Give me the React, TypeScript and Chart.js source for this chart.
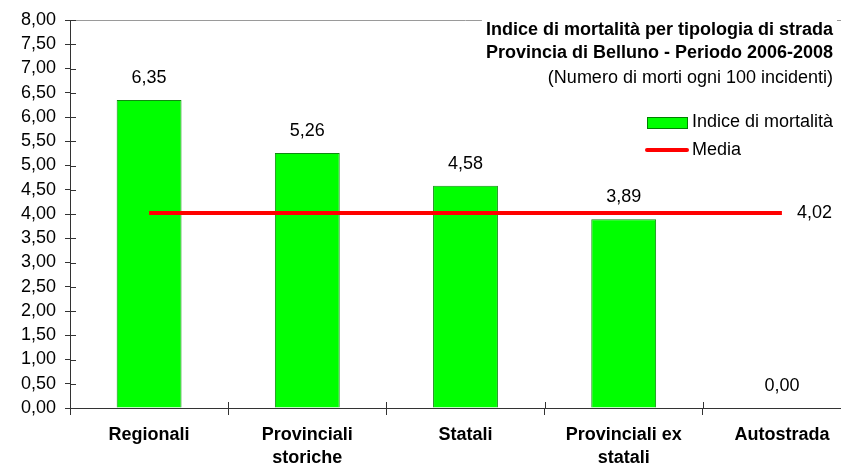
import React, { useEffect, useRef } from "react";
import { Chart, registerables } from "chart.js";

Chart.register(...registerables);

const categories: string[][] = [
  ["Regionali"],
  ["Provinciali", "storiche"],
  ["Statali"],
  ["Provinciali ex", "statali"],
  ["Autostrada"],
];
const indiceValues = [6.35, 5.26, 4.58, 3.89, 0.0];
const mediaValues = [4.02, 4.02, 4.02, 4.02, 4.02];
const yMin = 0;
const yMax = 8;
const yStep = 0.5;
const titleBold = [
  "Indice di mortalità per tipologia di strada",
  "Provincia di Belluno - Periodo 2006-2008",
];
const titleNormal = "(Numero di morti ogni 100 incidenti)";
const legendLabels = ["Indice di mortalità", "Media"];

const FONT = "'Liberation Sans', Arial, sans-serif";
const FS = 18;
const fmt = (v: number) => v.toFixed(2).replace(".", ",");

const overlay = {
  id: "overlay",
  beforeDatasetsDraw(chart: any) {
    const { ctx, chartArea: ca, scales } = chart;
    ctx.save();
    // top border of plot area
    ctx.strokeStyle = "#9a9a9a";
    ctx.lineWidth = 1;
    ctx.beginPath();
    ctx.moveTo(ca.left, Math.round(ca.top) + 0.5);
    ctx.lineTo(ca.right, Math.round(ca.top) + 0.5);
    ctx.stroke();
    // inner tick marks
    ctx.strokeStyle = "#333";
    const ys = scales.y;
    for (let v = yMin; v <= yMax + 1e-9; v += yStep) {
      const y = Math.round(ys.getPixelForValue(v)) + 0.5;
      ctx.beginPath();
      ctx.moveTo(ca.left, y);
      ctx.lineTo(ca.left + 6, y);
      ctx.stroke();
    }
    const n = categories.length;
    const w = (ca.right - ca.left) / n;
    for (let i = 0; i <= n; i++) {
      const x = Math.round(ca.left + i * w) + 0.5;
      ctx.beginPath();
      ctx.moveTo(x, ca.bottom - 6);
      ctx.lineTo(x, ca.bottom);
      ctx.stroke();
    }
    ctx.restore();
  },
  afterDraw(chart: any) {
    const { ctx } = chart;
    ctx.save();
    // data labels
    ctx.fillStyle = "#000";
    ctx.font = `${FS}px ${FONT}`;
    ctx.textAlign = "center";
    ctx.textBaseline = "middle";
    const barMeta = chart.getDatasetMeta(0);
    barMeta.data.forEach((el: any, i: number) => {
      ctx.fillText(fmt(indiceValues[i]), el.x, el.y - 22);
    });
    const lineMeta = chart.getDatasetMeta(1);
    const last = lineMeta.data[lineMeta.data.length - 1];
    ctx.textAlign = "left";
    ctx.fillText(fmt(mediaValues[mediaValues.length - 1]), last.x + 15, last.y);

    // title block
    const right = 833;
    ctx.font = `bold ${FS}px ${FONT}`;
    let maxW = 0;
    titleBold.forEach((t) => (maxW = Math.max(maxW, ctx.measureText(t).width)));
    ctx.font = `${FS}px ${FONT}`;
    maxW = Math.max(maxW, ctx.measureText(titleNormal).width);
    ctx.fillStyle = "#fff";
    ctx.fillRect(right - maxW - 4, 14, maxW + 8, 76);
    ctx.fillStyle = "#000";
    ctx.textAlign = "right";
    ctx.font = `bold ${FS}px ${FONT}`;
    ctx.fillText(titleBold[0], right, 30);
    ctx.fillText(titleBold[1], right, 53);
    ctx.font = `${FS}px ${FONT}`;
    ctx.fillText(titleNormal, right, 78);

    // legend
    ctx.fillStyle = "#00ff00";
    ctx.strokeStyle = "#008000";
    ctx.lineWidth = 1;
    ctx.fillRect(647, 117, 40, 11);
    ctx.strokeRect(647.5, 117.5, 40, 11);
    ctx.strokeStyle = "#ff0000";
    ctx.lineWidth = 4;
    ctx.lineCap = "round";
    ctx.beginPath();
    ctx.moveTo(647, 150);
    ctx.lineTo(687, 150);
    ctx.stroke();
    ctx.fillStyle = "#000";
    ctx.textAlign = "left";
    ctx.fillText(legendLabels[0], 692, 122);
    ctx.fillText(legendLabels[1], 692, 150);
    ctx.restore();
  },
};

export default function App() {
  const ref = useRef<HTMLCanvasElement | null>(null);
  useEffect(() => {
    if (!ref.current) return;
    const chart = new Chart(ref.current, {
      type: "bar",
      data: {
        labels: categories,
        datasets: [
          {
            type: "bar",
            label: legendLabels[0],
            data: indiceValues,
            backgroundColor: "#00ff00",
            borderColor: "#108a10",
            borderWidth: 1,
            barPercentage: 0.41,
            categoryPercentage: 1,
            order: 2,
          },
          {
            type: "line",
            label: legendLabels[1],
            data: mediaValues,
            borderColor: "#ff0000",
            borderWidth: 4,
            pointRadius: 0,
            fill: false,
            order: 1,
          } as any,
        ],
      },
      options: {
        responsive: false,
        animation: false,
        devicePixelRatio: 1,
        layout: { padding: { top: 20, right: 19, left: 0, bottom: 0 } },
        plugins: {
          legend: { display: false },
          title: { display: false },
          tooltip: { enabled: false },
        },
        scales: {
          x: {
            offset: true,
            grid: {
              display: true,
              drawOnChartArea: false,
              offset: true,
              tickLength: 7,
              color: "#333",
            },
            border: { color: "#333", width: 1 },
            ticks: {
              color: "#000",
              font: { family: FONT, size: FS, weight: "bold", lineHeight: 23 / FS },
              padding: 9,
              maxRotation: 0,
              autoSkip: false,
            },
            afterFit: (s: any) => {
              s.height = 55;
            },
          },
          y: {
            min: yMin,
            max: yMax,
            grid: {
              display: true,
              drawOnChartArea: false,
              tickLength: 5,
              color: "#333",
            },
            border: { color: "#333", width: 1 },
            ticks: {
              stepSize: yStep,
              autoSkip: false,
              color: "#000",
              font: { family: FONT, size: FS },
              padding: 9,
              callback: (v: any) => fmt(Number(v)),
            },
            afterFit: (s: any) => {
              s.width = 70;
            },
          },
        },
      },
      plugins: [overlay],
    });
    return () => chart.destroy();
  }, []);
  return (
    <div
      style={{
        position: "absolute",
        left: 0,
        top: 0,
        width: 841,
        height: 463,
        overflow: "hidden",
        background: "#fff",
      }}
    >
      <canvas
        ref={ref}
        width={880}
        height={463}
        style={{ display: "block", width: 880, height: 463 }}
      />
    </div>
  );
}
